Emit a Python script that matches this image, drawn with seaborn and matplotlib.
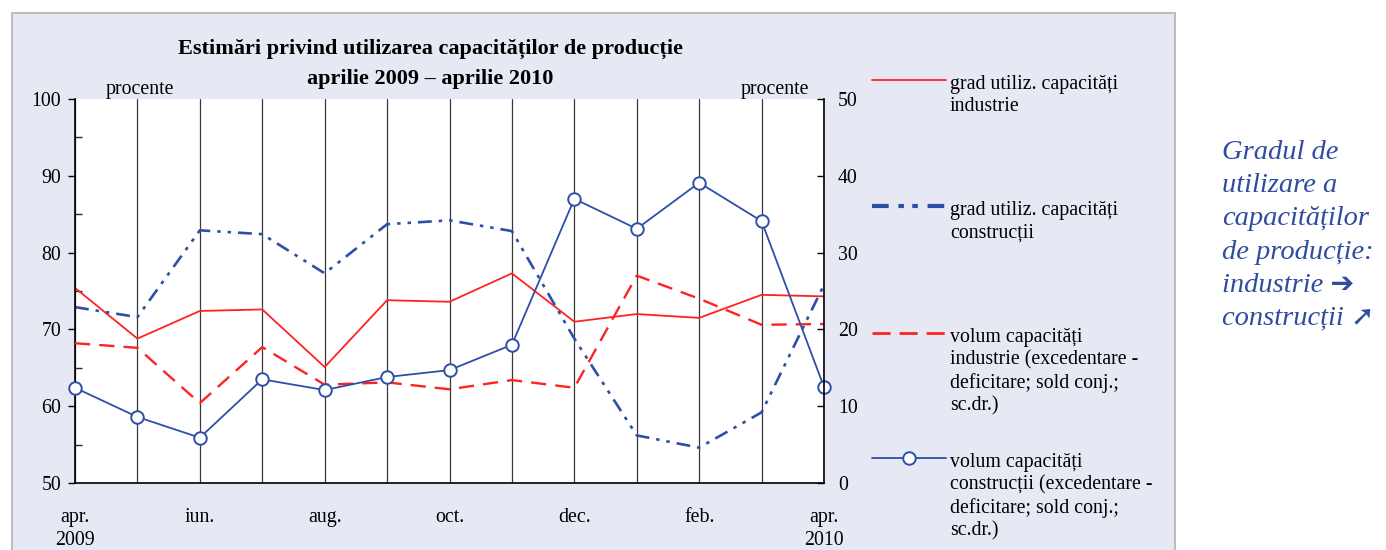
import matplotlib

matplotlib.use("Agg")

import matplotlib.pyplot as plt
import seaborn as sns
from matplotlib.lines import Line2D
from matplotlib.patches import Rectangle

# luni: apr. 2009 ... apr. 2010
luni = list(range(13))
etichete_luni = ["apr.\n2009", "", "iun.", "", "aug.", "", "oct.", "", "dec.", "", "feb.", "", "apr.\n2010"]

# scala stanga (procente)
grad_industrie = [75.4, 68.8, 72.4, 72.6, 65.1, 73.8, 73.6, 77.3, 71.0, 72.0, 71.5, 74.5, 74.3]
grad_constructii = [72.9, 71.6, 82.9, 82.4, 77.3, 83.7, 84.2, 82.8, 68.8, 56.2, 54.6, 59.2, 75.8]
# scala dreapta (sold conjunctural)
volum_industrie = [18.2, 17.6, 10.4, 17.7, 12.8, 13.1, 12.2, 13.4, 12.4, 27.0, 24.0, 20.6, 20.7]
volum_constructii = [12.4, 8.6, 5.9, 13.5, 12.1, 13.8, 14.7, 18.0, 37.0, 33.1, 39.1, 34.1, 12.5]

etichete_legenda = [
    "grad utiliz. capacități\nindustrie",
    "grad utiliz. capacități\nconstrucții",
    "volum capacități\nindustrie (excedentare -\ndeficitare; sold conj.;\nsc.dr.)",
    "volum capacități\nconstrucții (excedentare -\ndeficitare; sold conj.;\nsc.dr.)",
]

sns.set_theme(style="white")
plt.rcParams["font.family"] = ["Liberation Serif", "DejaVu Sans"]
plt.rcParams["lines.scale_dashes"] = False

RED = "#FF2222"
BLUE = "#2E4FA6"
TEXT_BLUE = "#2F4C9E"
W, H = 1386, 550
FS = 14.3

dash_dot = (0, (10, 5, 2.5, 5, 2.5, 5))
dashed = (0, (11, 6.5))

fig = plt.figure(figsize=(W / 100, H / 100), dpi=100)
fig.add_artist(
    Rectangle(
        (12 / W, -0.02), (1175 - 12) / W, (550 - 13) / H + 0.02,
        transform=fig.transFigure, facecolor="#E6E9F4", edgecolor="#BDBDBD",
        linewidth=1.5, zorder=-5,
    )
)

ax = fig.add_axes([75 / W, 1 - 483 / H, (824 - 75) / W, (483 - 99) / H])
ax.set_facecolor("white")
ax2 = ax.twinx()

sns.lineplot(x=luni, y=grad_industrie, ax=ax, color=RED, linewidth=1.3)
sns.lineplot(x=luni, y=grad_constructii, ax=ax, color=BLUE, linewidth=1.9, linestyle=dash_dot)
sns.lineplot(x=luni, y=volum_industrie, ax=ax2, color=RED, linewidth=1.7, linestyle=dashed)
sns.lineplot(
    x=luni, y=volum_constructii, ax=ax2, color=BLUE, linewidth=1.3,
    marker="o", markersize=9, markerfacecolor="white", markeredgecolor=BLUE,
    markeredgewidth=1.4, clip_on=False,
)

for a in (ax, ax2):
    a.set_xlim(0, 12)
    a.set_xlabel("")
    a.set_ylabel("")

ax.set_ylim(50, 100)
ax.set_yticks(range(50, 101, 10))
ax.set_yticks(range(55, 100, 10), minor=True)
ax.tick_params(axis="y", which="major", direction="out", length=5, width=1,
               left=True, colors="black", labelsize=FS, pad=5)
ax.tick_params(axis="y", which="minor", direction="in", length=5, width=1, left=True)

ax.set_xticks(luni)
ax.set_xticklabels(etichete_luni, linespacing=1.3)
ax.tick_params(axis="x", length=0, pad=18, labelsize=FS, colors="black")
ax.grid(axis="x", color="#3a3a3a", linewidth=0.9)
ax.set_axisbelow(True)

ax2.set_ylim(0, 50)
ax2.set_yticks(range(0, 51, 10))
ax2.tick_params(axis="y", direction="in", length=5, width=1, right=True,
                colors="black", labelsize=FS, pad=10)
ax2.grid(False)

for name, sp in ax.spines.items():
    sp.set_visible(name in ("left", "bottom"))
    sp.set_color("black")
    sp.set_linewidth(1.2)
for name, sp in ax2.spines.items():
    sp.set_visible(name == "right")
    sp.set_color("black")
    sp.set_linewidth(1.2)

fig.text(430 / W, 1 - 49 / H, "Estimări privind utilizarea capacităților de producție",
         ha="center", va="center", fontsize=16, fontweight="bold", color="black")
fig.text(430 / W, 1 - 79 / H, "aprilie 2009 – aprilie 2010",
         ha="center", va="center", fontsize=16, fontweight="bold", color="black")
fig.text(140 / W, 1 - 90 / H, "procente", ha="center", va="center", fontsize=FS, color="black")
fig.text(775 / W, 1 - 90 / H, "procente", ha="center", va="center", fontsize=FS, color="black")

# legenda
stiluri = [
    dict(color=RED, linewidth=1.3),
    dict(color=BLUE, linewidth=3, linestyle=(0, (12, 7, 4, 6, 4, 7))),
    dict(color=RED, linewidth=2, linestyle=(0, (13, 6.5))),
    dict(color=BLUE, linewidth=1.3, marker="o", markersize=9, markerfacecolor="white",
         markeredgecolor=BLUE, markeredgewidth=1.4, markevery=[1]),
]
linii_y = [80, 206, 333, 458]
for y, eticheta, stil in zip(linii_y, etichete_legenda, stiluri):
    fig.add_artist(Line2D([872 / W, 909 / W, 946 / W], [1 - y / H] * 3,
                          transform=fig.transFigure, **stil))
    fig.text(950 / W, 1 - (y - 5) / H, eticheta, ha="left", va="top",
             fontsize=FS, color="black", linespacing=1.24)

fig.text(1222 / W, 1 - 140 / H,
         "Gradul de\nutilizare a\ncapacităților\nde producție:\nindustrie ➔\nconstrucții ➚",
         ha="left", va="top", fontsize=20.5, style="italic", color=TEXT_BLUE,
         linespacing=1.43)

fig.savefig("out.png", dpi=100)
